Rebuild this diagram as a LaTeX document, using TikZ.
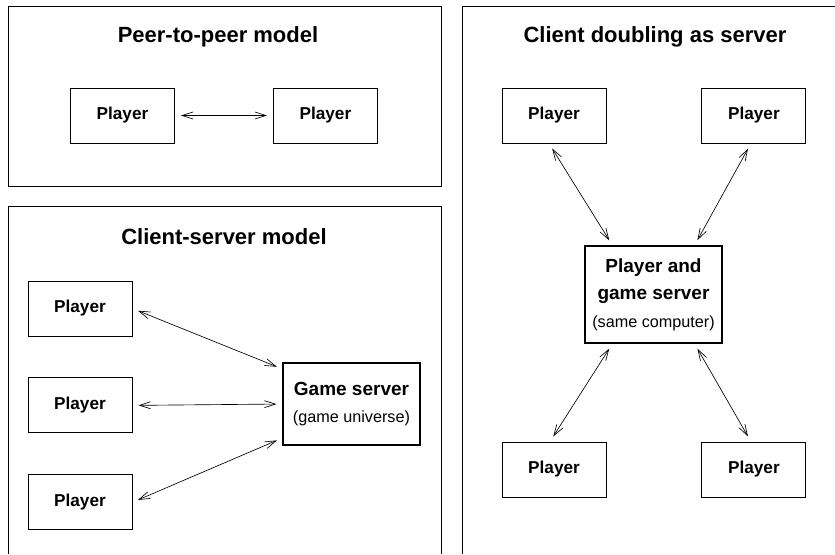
\documentclass[tikz,border=0pt]{standalone}
\usepackage{fontspec}
\setmainfont{Liberation Sans}
\usetikzlibrary{arrows.meta,positioning}

\newcommand{\titlefont}{\fontsize{22}{26}\selectfont\bfseries}
\newcommand{\boxfont}{\fontsize{17.2}{27}\selectfont\bfseries}
\newcommand{\notefont}{\fontsize{16.2}{27}\selectfont}

\begin{document}
\begin{tikzpicture}[x=1pt,y=-1pt,
    panel/.style={draw,line width=1pt},
    player/.style={draw,line width=0.9pt,minimum width=104pt,minimum height=55pt,inner sep=0pt,font=\boxfont},
    server/.style={draw,line width=1.1pt,minimum width=137pt,inner sep=0pt,align=center,font=\fontsize{19}{27.5}\selectfont},
    link/.style={line width=0.65pt,{Straight Barb[length=11pt,width=7pt]}-{Straight Barb[length=11pt,width=7pt]},shorten <=6pt,shorten >=6pt}]

  \useasboundingbox (0,0) rectangle (835,554);

  % Panels
  \draw[panel] (8,6) rectangle (441,186);
  \draw[panel] (8,554) -- (8,206) -- (441,206) -- (441,554);
  \draw[panel] (835,6) -- (462,6) -- (462,554);

  % Peer-to-peer model
  \node[anchor=base,font=\titlefont] (tA) at (218,42) {Peer-to-peer model};
  \node[player] (pA1) at (122.5,115.5) {Player};
  \node[player, right=98pt of pA1] (pA2) {Player};

  \draw[link] (pA1) -- (pA2);

  % Client-server model
  \node[anchor=base,font=\titlefont] (tB) at (224,244) {Client-server model};
  \node[player] (pB1) at (80,308.5) {Player};
  \node[player, below=41pt of pB1] (pB2) {Player};
  \node[player, below=41pt of pB2] (pB3) {Player};
  \node[server,minimum height=82pt] (gs) at (351.5,404)
    {{\bfseries Game server}\\ {\notefont (game universe)}};

  \draw[link] (pB1.east) -- ([yshift=35pt]gs.west);
  \draw[link] (pB2.east) -- (gs.west);
  \draw[link] (pB3.east) -- ([yshift=-34pt]gs.west);

  % Client doubling as server
  \node[anchor=base,font=\titlefont] (tC) at (655,42) {Client doubling as server};
  \node[player] (pC1) at (554,115.5) {Player};
  \node[player, right=95pt of pC1] (pC2) {Player};
  \node[server,minimum height=97pt] (hs) at (653.5,294.5)
    {{\bfseries Player and}\\ {\bfseries game server}\\ {\notefont (same computer)}};
  \node[player] (pC3) at (554,469.5) {Player};
  \node[player, right=95pt of pC3] (pC4) {Player};

  \draw[link] ([xshift=-5pt]pC1.south) -- ([xshift=-41pt]hs.north);
  \draw[link] ([xshift=-3pt]pC2.south) -- ([xshift=41pt]hs.north);
  \draw[link] ([xshift=-41pt]hs.south) -- ([xshift=-4pt]pC3.north);
  \draw[link] ([xshift=41pt]hs.south) -- ([xshift=-3pt]pC4.north);

\end{tikzpicture}
\end{document}
